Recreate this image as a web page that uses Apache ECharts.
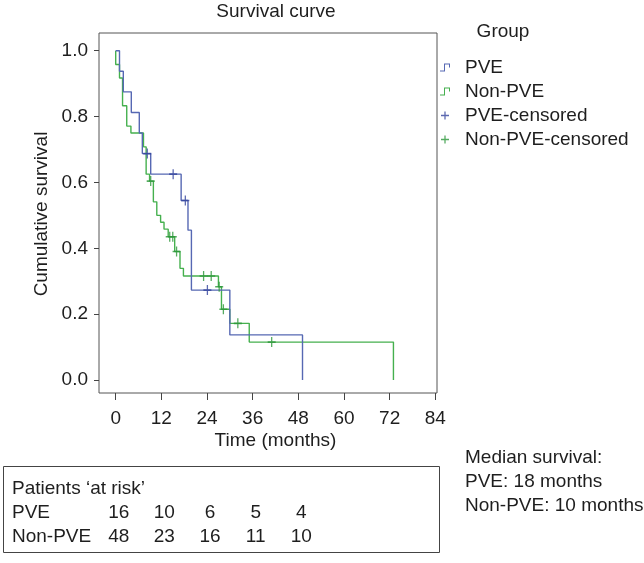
<!DOCTYPE html>
<html><head><meta charset="utf-8">
<script src="https://cdn.jsdelivr.net/npm/echarts@6/dist/echarts.min.js"></script>
<style>html,body{margin:0;padding:0;background:#fff}#c{width:644px;height:563px}</style>
</head><body><div id="c"></div>
<script>
// ---- data ----
const xTicks = [0, 12, 24, 36, 48, 60, 72, 84];
const yTicks = [0, 0.2, 0.4, 0.6, 0.8, 1.0];

// PVE step curve (time in months, cumulative survival after the step)
const pveTimes = [0, 1.0, 2.0, 4.1, 6.2, 7.0, 9.2, 17.2, 19.0, 19.9, 30.0, 49.1];
const pveSurv  = [1.0, 0.9375, 0.875, 0.8125, 0.75, 0.6875, 0.625, 0.545, 0.455, 0.273, 0.137, 0.0];
const pveCensTimes = [8.3, 15.1, 18.3, 24.1];
const pveCensSurv  = [0.6875, 0.625, 0.545, 0.273];

// Non-PVE step curve
const nonTimes = [0, 0, 1.0, 1.8, 2.9, 4.0, 7.3, 8.0, 8.9, 9.9, 10.8, 11.8, 12.7, 13.8, 15.5, 16.9, 17.8, 27.0, 27.8, 30.0, 35.1, 73.0];
const nonSurv  = [1.0, 0.958, 0.917, 0.833, 0.771, 0.75, 0.708, 0.625, 0.604, 0.541, 0.5, 0.479, 0.458, 0.435, 0.39, 0.339, 0.316, 0.283, 0.215, 0.172, 0.115, 0.0];
const nonCensTimes = [9.2, 14.2, 15.0, 16.0, 23.1, 25.1, 27.2, 28.3, 32.1, 41.0];
const nonCensSurv  = [0.604, 0.435, 0.435, 0.39, 0.316, 0.316, 0.283, 0.215, 0.172, 0.115];

// patients at risk
const riskTimes = [0, 12, 24, 36, 48];
const riskPVE = [16, 10, 6, 5, 4];
const riskNon = [48, 23, 16, 11, 10];

const groupNames = ['PVE', 'Non-PVE', 'PVE-censored', 'Non-PVE-censored'];
const medianLines = ['Median survival:', 'PVE: 18 months', 'Non-PVE: 10 months'];

// ---- styles ----
const FONT = 'Liberation Sans, Arial, Helvetica, sans-serif';
const FS = 19;
const TXT = '#1e1e1e';
const BLUE = '#5668b3', GREEN = '#45b04e';
const BLUE_C = '#33439c', GREEN_C = '#2a9638';
const STEP_ICON = 'path://M0,7H4V0H10V4H9V1H5V8H0Z';
const PLUS = 'path://M4.2,0H5.8V4.2H10V5.8H5.8V10H4.2V5.8H0V4.2H4.2Z';

const zip = (a, b) => a.map((v, i) => [v, b[i]]);

const chart = echarts.init(document.getElementById('c'), null, {renderer: 'canvas'});
const option = {
  backgroundColor: '#fff',
  animation: false,
  textStyle: {fontFamily: FONT},
  grid: {left: 99, top: 33, width: 338, height: 360, show: true, borderColor: '#555', borderWidth: 1, backgroundColor: 'transparent'},
  xAxis: {
    type: 'value', min: -4.39, max: 84.45,
    axisLine: {show: false, onZero: false},
    splitLine: {show: false},
    axisTick: {show: true, customValues: xTicks, length: 7, lineStyle: {color: '#444', width: 1}},
    axisLabel: {customValues: xTicks, fontSize: FS, color: TXT, fontFamily: FONT, margin: 16}
  },
  yAxis: {
    type: 'value', min: -0.0395, max: 1.0537,
    axisLine: {show: false, onZero: false},
    splitLine: {show: false},
    axisTick: {show: true, customValues: yTicks, length: 5, lineStyle: {color: '#444', width: 1}},
    axisLabel: {customValues: yTicks, fontSize: FS, color: TXT, fontFamily: FONT, margin: 11,
      formatter: v => v.toFixed(1)}
  },
  legend: {
    orient: 'vertical', left: 435, top: 53,
    itemWidth: 10, itemHeight: 8, itemGap: 5,
    selectedMode: false,
    textStyle: {fontSize: FS, color: TXT, fontFamily: FONT, lineHeight: 19, padding: [0, 0, 0, 10]},
    data: [
      {name: groupNames[0], icon: STEP_ICON},
      {name: groupNames[1], icon: STEP_ICON},
      {name: groupNames[2], icon: PLUS},
      {name: groupNames[3], icon: PLUS}
    ]
  },
  series: [
    {name: groupNames[0], type: 'line', step: 'end', symbol: 'none', data: zip(pveTimes, pveSurv),
      lineStyle: {color: BLUE, width: 1.4}, itemStyle: {color: BLUE}, z: 3},
    {name: groupNames[1], type: 'line', step: 'end', symbol: 'none', data: zip(nonTimes, nonSurv),
      lineStyle: {color: GREEN, width: 1.4}, itemStyle: {color: GREEN}, z: 2},
    {name: groupNames[2], type: 'scatter', symbol: PLUS, symbolSize: [8, 10], data: zip(pveCensTimes, pveCensSurv),
      itemStyle: {color: BLUE_C}, z: 5},
    {name: groupNames[3], type: 'scatter', symbol: PLUS, symbolSize: [8, 10], data: zip(nonCensTimes, nonCensSurv),
      itemStyle: {color: GREEN_C}, z: 4}
  ]
};
chart.setOption(option);

const px = t => chart.convertToPixel({xAxisIndex: 0}, t);
const txt = (text, x, y, align, extra) => Object.assign({
  type: 'text', x: x, y: y, silent: true,
  style: {text: text, font: FS + 'px ' + FONT, fill: TXT, textAlign: align || 'left', textVerticalAlign: 'middle'}
}, extra || {});

const g = [];
g.push(txt('Survival curve', 276, 12, 'center'));
g.push(txt('Group', 503, 32, 'center'));
g.push(txt('Time (months)', (px(0) + px(84)) / 2, 441, 'center'));
g.push(txt('Cumulative survival', 42, 214, 'center', {rotation: Math.PI / 2}));
medianLines.forEach((s, i) => g.push(txt(s, 465, 458 + i * 24, 'left')));
g.push({type: 'rect', shape: {x: 3.5, y: 466.5, width: 436, height: 86}, style: {fill: 'none', stroke: '#444', lineWidth: 1}, silent: true});
g.push(txt('Patients \u2018at risk\u2019', 12, 489, 'left'));
g.push(txt('PVE', 12, 513, 'left'));
g.push(txt('Non-PVE', 12, 537, 'left'));
riskTimes.forEach((t, i) => {
  g.push(txt(String(riskPVE[i]), px(t) + 3, 513, 'center'));
  g.push(txt(String(riskNon[i]), px(t) + 3, 537, 'center'));
});
chart.setOption({graphic: g});
</script>
</body></html>
